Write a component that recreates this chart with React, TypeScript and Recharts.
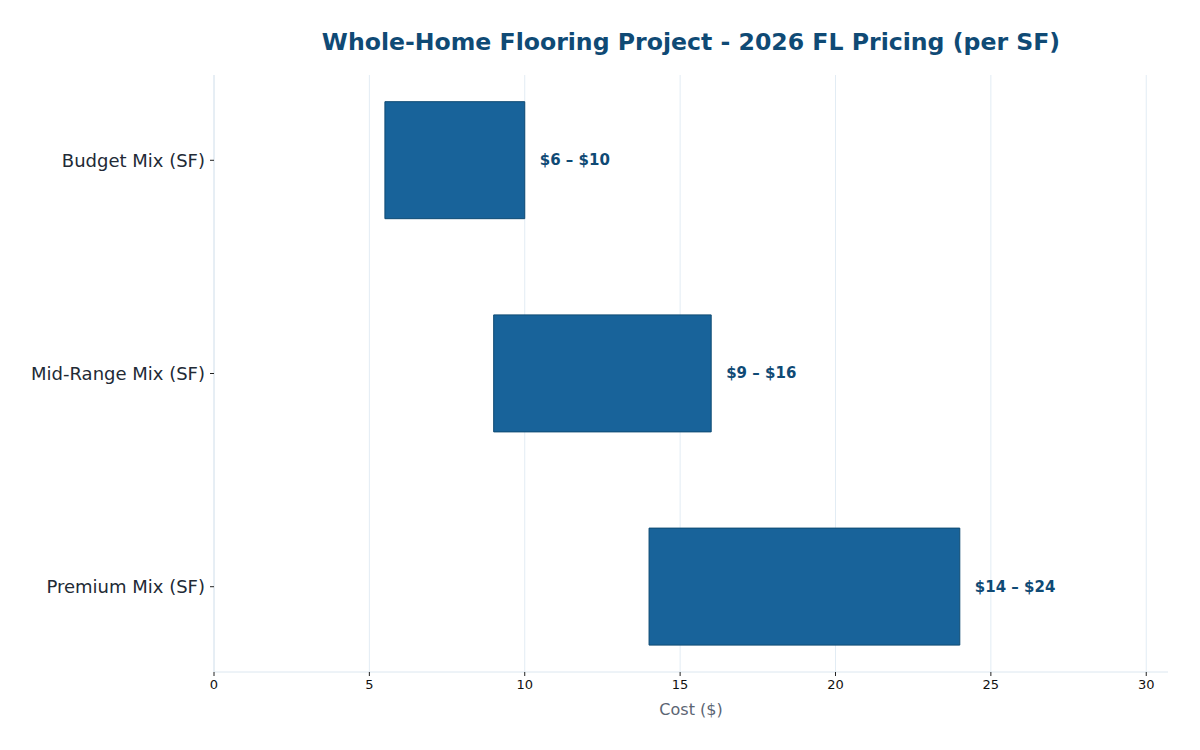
import React from "react";
import { BarChart, Bar, XAxis, YAxis, CartesianGrid, LabelList } from "recharts";

// Flooring package tiers and their cost range per square foot
const categories = ["Budget Mix (SF)", "Mid-Range Mix (SF)", "Premium Mix (SF)"];
const lowCost = [5.5, 9, 14];
const highCost = [10, 16, 24];
const xTicks = [0, 5, 10, 15, 20, 25, 30];

const data = categories.map((name, i) => ({
  idx: i,
  name,
  range: [lowCost[i], highCost[i]],
}));

const FONT = "'DejaVu Sans', sans-serif";
const TITLE_COLOR = "#0f4a75";

const RangeLabel = (props: any) => {
  const { x, y, width, height, index } = props;
  const text = `$${Math.round(lowCost[index])} – $${Math.round(highCost[index])}`;
  return (
    <text
      x={x + width + 15}
      y={y + height / 2}
      dominantBaseline="central"
      fontFamily={FONT}
      fontSize={15}
      fontWeight="bold"
      fill={TITLE_COLOR}
    >
      {text}
    </text>
  );
};

// vertical grid lines only at the labelled ticks
const gridX = (props: any) => {
  const scale = props?.xAxis?.scale;
  if (scale && typeof scale === "function") {
    return xTicks.map((t) => scale(t));
  }
  if (scale && typeof scale.map === "function") {
    return xTicks.map((t) => scale.map(t));
  }
  return [];
};

export default function App() {
  return (
    <div style={{ position: "absolute", left: 0, top: 0, width: 1200, height: 750, background: "#fff" }}>
      <div
        style={{
          position: "absolute",
          left: 214,
          width: 954,
          top: 26,
          textAlign: "center",
          fontFamily: FONT,
          fontSize: 23.6,
          fontWeight: "bold",
          color: TITLE_COLOR,
          lineHeight: "32px",
        }}
      >
        Whole-Home Flooring Project - 2026 FL Pricing (per SF)
      </div>
      <BarChart
        width={1200}
        height={750}
        data={data}
        layout="vertical"
        margin={{ top: 75, right: 32, bottom: 0, left: 0 }}
      >
        <CartesianGrid
          horizontal={false}
          stroke="#e2ecf4"
          strokeWidth={1}
          verticalCoordinatesGenerator={gridX}
        />
        <XAxis
          type="number"
          domain={[0, 30.7]}
          ticks={xTicks}
          allowDataOverflow
          height={78}
          axisLine={{ stroke: "#dce7f0" }}
          tickLine={{ stroke: "#222" }}
          tickSize={4}
          tickMargin={4}
          tick={{ fontFamily: FONT, fontSize: 13, fill: "#111" }}
          label={{
            value: "Cost ($)",
            position: "insideBottom",
            offset: 35,
            style: { fontFamily: FONT, fontSize: 16, fill: "#5b6573" },
          }}
        />
        <YAxis
          type="number"
          dataKey="idx"
          domain={[-0.4, 2.4]}
          ticks={[0, 1, 2]}
          tickFormatter={(v: number) => categories[v] ?? ""}
          width={214}
          axisLine={{ stroke: "#dce7f0" }}
          tickLine={{ stroke: "#222" }}
          tickSize={4}
          tickMargin={5}
          tick={{ fontFamily: FONT, fontSize: 18, fill: "#222a35" }}
        />
        <Bar
          dataKey="range"
          barSize={117}
          fill="#18639a"
          stroke="#0e4a73"
          strokeWidth={1}
          isAnimationActive={false}
        >
          <LabelList dataKey="range" content={RangeLabel} />
        </Bar>
      </BarChart>
    </div>
  );
}
